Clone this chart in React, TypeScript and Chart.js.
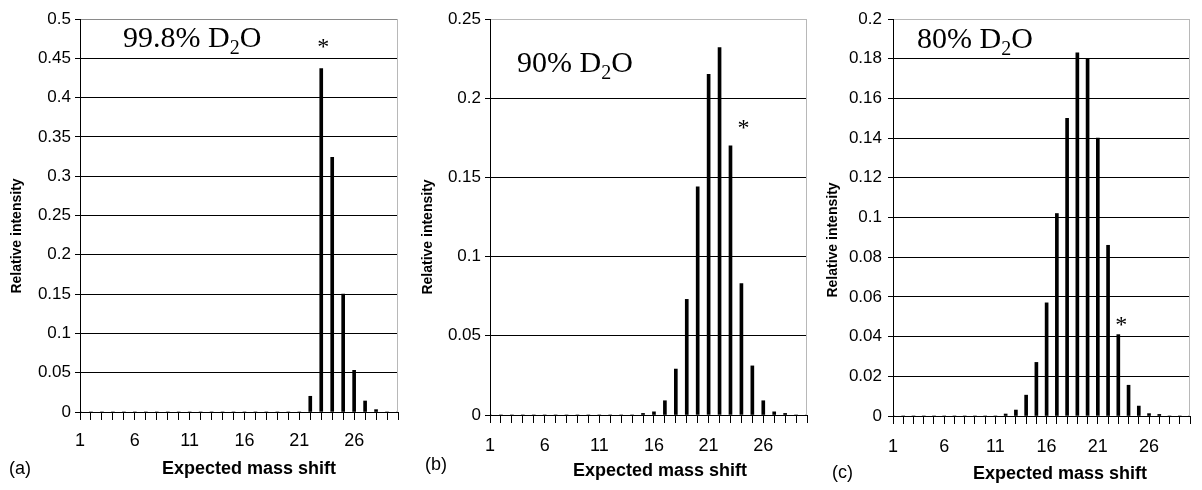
import React, { useEffect, useRef } from 'react';
import { Chart, registerables } from 'chart.js';

Chart.register(...registerables);

// ---------- data ----------
const categories = [
  '1', '2', '3', '4', '5', '6', '7', '8', '9', '10',
  '11', '12', '13', '14', '15', '16', '17', '18', '19', '20',
  '21', '22', '23', '24', '25', '26', '27', '28', '29', '30',
];

// (a) 99.8% D2O
const intensityA = [
  0, 0, 0, 0, 0, 0, 0, 0, 0, 0,
  0, 0, 0, 0, 0, 0, 0, 0, 0, 0,
  0, 0.02, 0.437, 0.324, 0.15, 0.053, 0.014, 0.003, 0, 0,
];

// (b) 90% D2O
const intensityB = [
  0, 0, 0, 0, 0, 0, 0, 0, 0, 0,
  0, 0, 0, 0, 0.001, 0.002, 0.009, 0.029, 0.073, 0.144,
  0.215, 0.232, 0.17, 0.083, 0.031, 0.009, 0.002, 0.001, 0, 0,
];

// (c) 80% D2O
const intensityC = [
  0, 0, 0, 0, 0, 0, 0, 0, 0, 0,
  0, 0.001, 0.003, 0.0105, 0.027, 0.057, 0.102, 0.15, 0.183, 0.18,
  0.14, 0.086, 0.041, 0.0155, 0.005, 0.0012, 0.0008, 0, 0, 0,
];

const seriesList = [intensityA, intensityB, intensityC];
const yMaxes = [0.5, 0.25, 0.2];
const ySteps = [0.05, 0.05, 0.02];
const titleMain = ['99.8% D', '90% D', '80% D'];
const titleSub = '2';
const titleTail = 'O';
const panelLetters = ['(a)', '(b)', '(c)'];
const starCategoryIndex = [22, 23, 22];
const starValue = [0.469, 0.184, 0.048];
const xAxisTitle = 'Expected mass shift';
const yAxisTitle = 'Relative intensity';

// ---------- layout ----------
const W = 1202;
const H = 490;
const YW = 70;
const XH = 60;
const SANS = '"Liberation Sans", Arial, Helvetica, sans-serif';
const SERIF = '"Liberation Serif", "Times New Roman", Times, serif';

const panels = [
  { L: 80, R: 398, T: 19, B: 412, yPad: 4, xPad: 10, titleX: 123, titleY: 47, yTitleX: 17, yTitleY: 236, xTitleX: 249, xTitleY: 474, letterX: 9, letterY: 474, starDx: 2, topColor: '#8a8a8a' },
  { L: 490, R: 807, T: 19, B: 415, yPad: 4, xPad: 12, titleX: 517, titleY: 72, yTitleX: 428, yTitleY: 237, xTitleX: 660, xTitleY: 476, letterX: 425, letterY: 470, starDx: 2, topColor: '#b8b8b8' },
  { L: 893, R: 1201, T: 19, B: 416, yPad: 6, xPad: 12, titleX: 917, titleY: 48, yTitleX: 833, yTitleY: 240, xTitleX: 1060, xTitleY: 479, letterX: 832, letterY: 478, starDx: 3, topColor: '#b8b8b8' },
];

function makeOverlay(i: number) {
  const p = panels[i];
  return {
    id: 'overlay' + i,
    afterDraw(chart: any) {
      const ctx = chart.ctx as CanvasRenderingContext2D;
      const area = chart.chartArea;
      ctx.save();
      // right border of plot area
      ctx.strokeStyle = '#b8b8b8';
      ctx.lineWidth = 1;
      const rx = Math.round(area.right) - 0.5;
      ctx.beginPath();
      ctx.moveTo(rx, area.top);
      ctx.lineTo(rx, area.bottom);
      ctx.stroke();

      ctx.fillStyle = '#000';
      // chart title with subscript
      ctx.textAlign = 'left';
      ctx.textBaseline = 'alphabetic';
      let x = p.titleX;
      ctx.font = `30px ${SERIF}`;
      ctx.fillText(titleMain[i], x, p.titleY);
      x += ctx.measureText(titleMain[i]).width;
      ctx.font = `20px ${SERIF}`;
      ctx.fillText(titleSub, x, p.titleY + 7);
      x += ctx.measureText(titleSub).width;
      ctx.font = `30px ${SERIF}`;
      ctx.fillText(titleTail, x, p.titleY);

      // asterisk
      const xs = chart.scales.x;
      const ys = chart.scales.y;
      const sx = xs.getPixelForValue(starCategoryIndex[i]) + p.starDx;
      const sy = ys.getPixelForValue(starValue[i]);
      ctx.font = `24px ${SERIF}`;
      ctx.textAlign = 'center';
      ctx.fillText('*', sx, sy + 11);

      // y axis title
      ctx.save();
      ctx.translate(p.yTitleX, p.yTitleY);
      ctx.rotate(-Math.PI / 2);
      ctx.font = `bold 14px ${SANS}`;
      ctx.textAlign = 'center';
      ctx.textBaseline = 'middle';
      ctx.fillText(yAxisTitle, 0, 0);
      ctx.restore();

      // x axis title
      ctx.font = `bold 18px ${SANS}`;
      ctx.textAlign = 'center';
      ctx.textBaseline = 'alphabetic';
      ctx.fillText(xAxisTitle, p.xTitleX, p.xTitleY);

      // panel letter
      ctx.font = `18px ${SANS}`;
      ctx.textAlign = 'left';
      ctx.fillText(panelLetters[i], p.letterX, p.letterY);
      ctx.restore();
    },
  };
}

function buildConfig(i: number): any {
  const p = panels[i];
  const yMax = yMaxes[i];
  return {
    type: 'bar',
    data: {
      labels: categories,
      datasets: [
        {
          data: seriesList[i],
          backgroundColor: '#000',
          borderWidth: 0,
          barThickness: 3,
        },
      ],
    },
    options: {
      animation: false,
      responsive: false,
      devicePixelRatio: 1,
      layout: {
        padding: { left: p.L - YW, right: W - p.R, top: p.T, bottom: H - p.B - XH },
      },
      plugins: {
        legend: { display: false },
        tooltip: { enabled: false },
      },
      scales: {
        x: {
          type: 'category',
          offset: false,
          afterFit: (s: any) => { s.height = XH; },
          grid: {
            offset: false,
            drawOnChartArea: false,
            drawTicks: true,
            tickLength: 8,
            color: '#000',
            lineWidth: 1,
          },
          border: { display: true, color: '#000', width: 1 },
          ticks: {
            autoSkip: false,
            maxRotation: 0,
            minRotation: 0,
            padding: p.xPad,
            color: '#000',
            font: { family: SANS, size: 18 },
            callback: (_v: any, k: number) => (k % 5 === 0 ? categories[k] : ''),
          },
        },
        y: {
          min: 0,
          max: yMax,
          afterFit: (s: any) => { s.width = YW; },
          grid: {
            color: (c: any) => (c.tick && Math.abs(c.tick.value - yMax) < 1e-9 ? p.topColor : '#000'),
            tickColor: '#000',
            tickLength: 5,
            lineWidth: 1,
          },
          border: { display: true, color: '#000', width: 1 },
          ticks: {
            stepSize: ySteps[i],
            padding: p.yPad,
            color: '#000',
            font: { family: SANS, size: 17 },
            callback: (v: any) => String(Number(Number(v).toFixed(4))),
          },
        },
      },
    },
    plugins: [makeOverlay(i)],
  };
}

export default function App() {
  const r0 = useRef<HTMLCanvasElement>(null);
  const r1 = useRef<HTMLCanvasElement>(null);
  const r2 = useRef<HTMLCanvasElement>(null);

  useEffect(() => {
    const canvases = [r0.current, r1.current, r2.current];
    const charts = canvases.map((c, i) => new Chart(c as HTMLCanvasElement, buildConfig(i)));
    return () => {
      charts.forEach((ch) => ch.destroy());
    };
  }, []);

  const refs = [r0, r1, r2];
  return (
    <div style={{ position: 'absolute', left: 0, top: 0, width: W, height: H, background: '#fff', overflow: 'hidden' }}>
      {refs.map((r, i) => (
        <canvas
          key={i}
          ref={r}
          width={W}
          height={H}
          style={{ position: 'absolute', left: 0, top: 0, width: W, height: H }}
        />
      ))}
    </div>
  );
}
